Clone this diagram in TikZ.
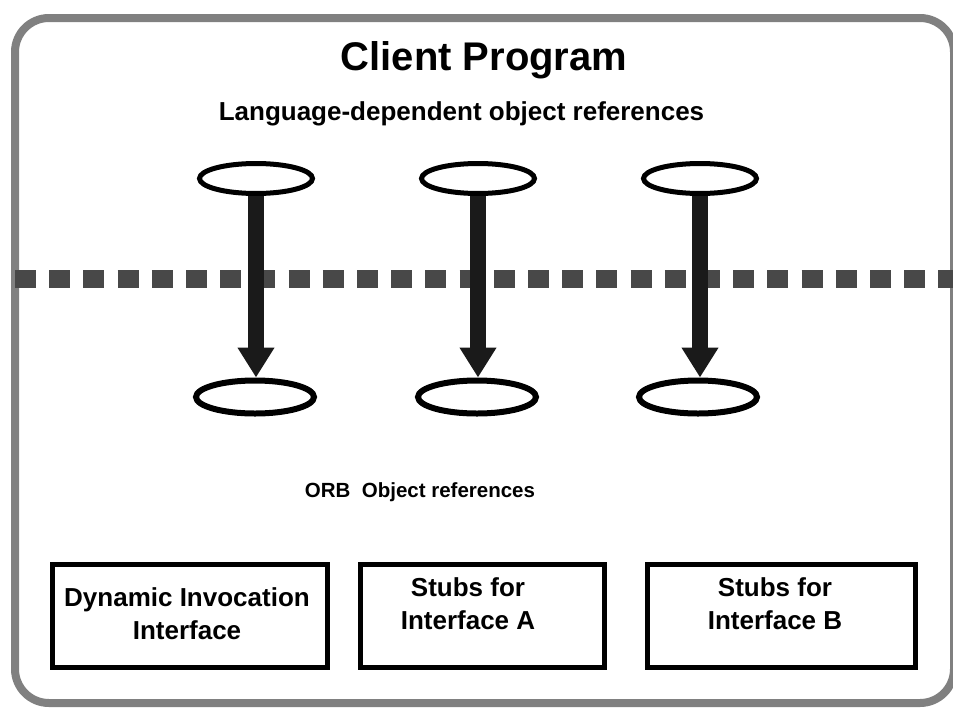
\documentclass[tikz,border=0pt]{standalone}
\usepackage{fontspec}
\setmainfont{Liberation Sans}
\usetikzlibrary{shapes.geometric,arrows.meta}
\definecolor{framegray}{HTML}{808080}
\definecolor{dashgray}{HTML}{484848}
\definecolor{arrowblack}{HTML}{1A1A1A}
\tikzset{
  frame/.style={draw=framegray,line width=8pt,rounded corners=34pt,rectangle,inner sep=0pt},
  topref/.style={draw=black,ellipse,line width=5pt,minimum width=113pt,minimum height=30pt,inner sep=0pt},
  botref/.style={draw=black,ellipse,line width=6pt,minimum width=118pt,minimum height=33pt,inner sep=0pt},
  refarrow/.style={draw=arrowblack,line width=16pt,-{Triangle[width=35pt,length=30pt]}},
  orbbox/.style={draw=black,line width=5pt,rectangle,inner sep=0pt,minimum height=103pt},
  boxtext/.style={font=\bfseries\fontsize{26}{33}\selectfont,align=center,inner sep=0pt},
  sepline/.style={draw=dashgray,line width=18pt,dash pattern=on 21pt off 13.2pt}
}
\begin{document}
\begin{tikzpicture}[x=1pt,y=-1pt]
\useasboundingbox (0,0) rectangle (953,707);
\clip (0,0) rectangle (953,707);
% outer frame
\node[frame,minimum width=939pt,minimum height=685pt] (frame) at (484.5,360.5) {};
% titles
\node[font=\bfseries\fontsize{40}{48}\selectfont,anchor=base,inner sep=0pt] (title) at (484,70) {Client Program};
\node[font=\bfseries\fontsize{26}{32}\selectfont,anchor=base,inner sep=0pt] (langref) at (461.5,120) {Language-dependent object references};
\node[font=\bfseries\fontsize{20.5}{26}\selectfont,anchor=base,inner sep=0pt] (orbref) at (420,497) {ORB\ \ Object references};
% dashed separator
\coordinate (dl) at (15,279);
\coordinate (dr) at (960,279);
\draw[sepline] (dl) -- (dr);
% references
\node[topref] (t1) at (256,178.5) {};
\node[topref] (t2) at (478,178.5) {};
\node[topref] (t3) at (700,178.5) {};
\node[botref] (b1) at (255,397) {};
\node[botref] (b2) at (477,397) {};
\node[botref] (b3) at (698,397) {};
\draw[refarrow] (t1.south) -- (t1.south |- b1.north);
\draw[refarrow] (t2.south) -- (t2.south |- b2.north);
\draw[refarrow] (t3.south) -- (t3.south |- b3.north);
% boxes
\node[orbbox,minimum width=275pt] (dii) at (190,616) {};
\node[orbbox,minimum width=244pt] (stubA) at (482.5,616) {};
\node[orbbox,minimum width=268pt] (stubB) at (781.5,616) {};
\node[boxtext] (diitext) at (187,613.5) {Dynamic Invocation\\Interface};
\node[boxtext] (stubAtext) at (468,603.5) {Stubs for\\Interface A};
\node[boxtext] (stubBtext) at (775,604) {Stubs for\\Interface B};
\end{tikzpicture}
\end{document}
